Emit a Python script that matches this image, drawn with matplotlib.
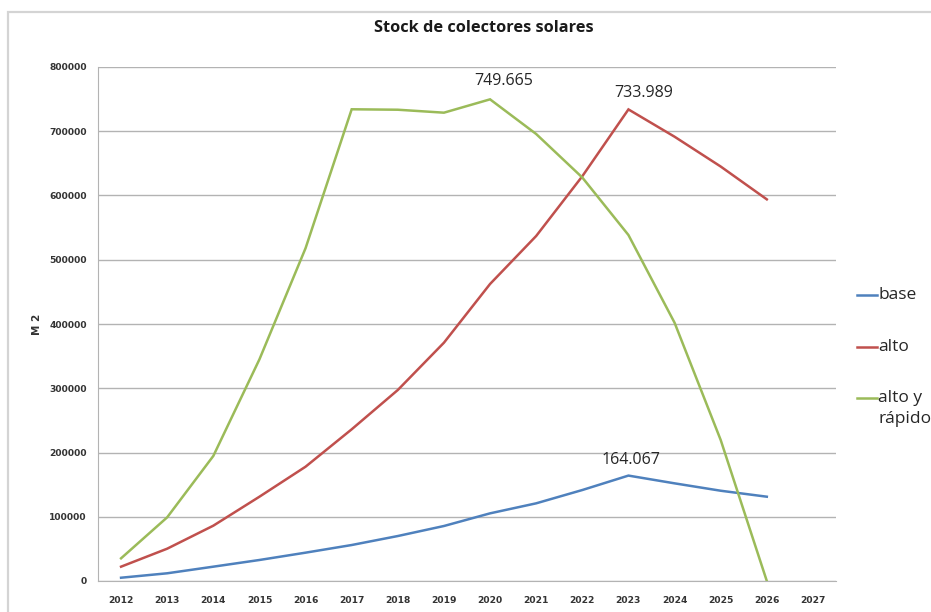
import matplotlib
matplotlib.use("Agg")
import matplotlib.pyplot as plt
from matplotlib.lines import Line2D
from matplotlib.patches import Rectangle

years = list(range(2012, 2027))
base = [5100, 12000, 22300, 32700, 44100, 56000, 70000, 85600, 105300,
        120900, 141600, 164067, 152000, 140500, 131200]
alto = [22300, 50300, 86100, 131200, 177900, 236100, 297300, 370900, 462300,
        537000, 630000, 733989, 691500, 645100, 594000]
alto_rapido = [35300, 99100, 194600, 345000, 518000, 734200, 733500, 728900,
               749665, 695700, 628000, 538500, 402000, 219500, 0]
labels = ["base", "alto", "alto y\nrápido"]
colors = ["#4F81BD", "#C0504D", "#9BBB59"]
xticks = list(range(2012, 2028))
yticks = list(range(0, 800001, 100000))

W, H = 931, 612
fig = plt.figure(figsize=(W / 100, H / 100), dpi=100)
ax = fig.add_axes([98 / W, 1 - 581 / H, (836 - 98) / W, (581 - 67) / H])

# outer chart frame (cut at right/bottom like the screenshot)
fig.patches.append(Rectangle((8 / W, -0.1), 1.2, 1 - 12 / H + 0.1,
                             transform=fig.transFigure, fill=False,
                             edgecolor="#d4d4d4", lw=1.6))

for ys, c in zip([base, alto, alto_rapido], colors):
    ax.plot(years, ys, color=c, lw=1.8, solid_joinstyle="miter")

ax.set_xlim(2011.5, 2027.5)
ax.set_ylim(0, 800000)
ax.set_xticks(xticks)
ax.set_yticks(yticks)
ax.set_xticklabels([str(x) for x in xticks])
ax.set_yticklabels([str(y) for y in yticks])
ax.tick_params(length=0, labelsize=6.6, labelcolor="#333333")
ax.tick_params(axis="x", pad=11)
ax.tick_params(axis="y", pad=8)
for lab in ax.get_xticklabels() + ax.get_yticklabels():
    lab.set_fontweight("bold")
ax.grid(axis="y", color="#b3b3b3", lw=1)
ax.set_axisbelow(True)
for s in ["top", "right"]:
    ax.spines[s].set_visible(False)
ax.spines["left"].set_color("#b3b3b3")
ax.spines["bottom"].set_color("#b3b3b3")

ax.set_ylabel("M 2", fontsize=7.5, fontweight="bold", color="#333333", labelpad=5)

fnt = "Open Sans"
# data labels at the peaks
ax.annotate("749.665", (2020, 749665), xytext=(10, 7.5), textcoords="offset points",
            ha="center", va="bottom", fontsize=11.5, family=fnt, color="#262626")
ax.annotate("733.989", (2023, 733989), xytext=(11, 6), textcoords="offset points",
            ha="center", va="bottom", fontsize=11.5, family=fnt, color="#262626")
ax.annotate("164.067", (2023, 164067), xytext=(1.5, 5.5), textcoords="offset points",
            ha="center", va="bottom", fontsize=11.5, family=fnt, color="#262626")

fig.text(484 / W, 1 - 28 / H, "Stock de colectores solares", ha="center", va="center",
         fontsize=11.8, fontweight="bold", family=fnt, color="#1a1a1a")

# legend
for lab, c, yy in zip(labels, colors, [295, 347, 398]):
    fig.lines.append(Line2D([857 / W, 877 / W], [1 - yy / H, 1 - yy / H],
                            transform=fig.transFigure, color=c, lw=1.8))
    two = "\n" in lab
    fig.text(878 / W, 1 - (yy - 8) / H if two else 1 - yy / H, lab, ha="left",
             va="top" if two else "center",
             fontsize=12.5, family=fnt, color="#262626", linespacing=1.45)

fig.savefig("out.png", dpi=100)
